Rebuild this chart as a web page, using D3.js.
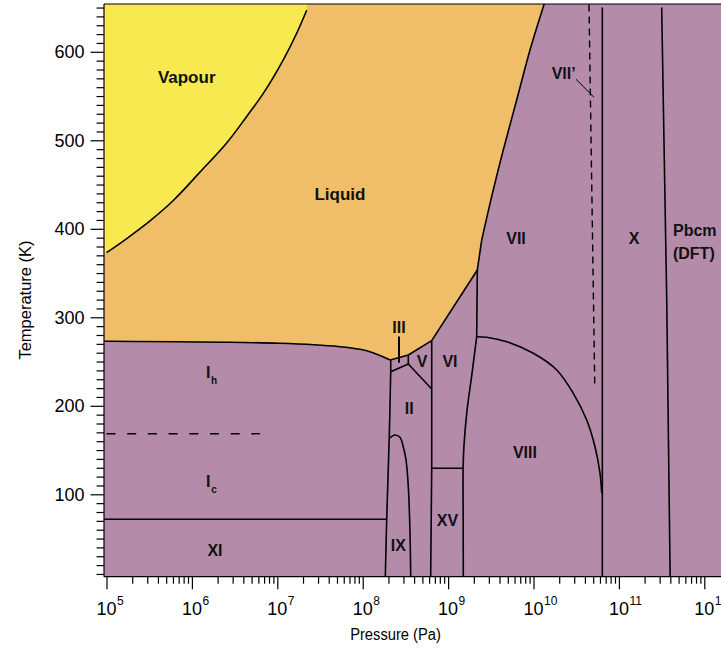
<!DOCTYPE html>
<html><head><meta charset="utf-8">
<script src="https://cdn.jsdelivr.net/npm/d3@7"></script>
<style>body{margin:0;background:#fff}svg{display:block}</style>
</head><body>
<svg id="c" width="721" height="648"></svg>
<script>
// ---- data: boundaries as [log10(P / Pa), T / K] ----
const vapourCurve = [[5.0,373],[5.237,389],[5.509,409],[5.782,432],[6.094,464],[6.407,497],[6.642,527],[6.836,553],[7.07,591],[7.227,621],[7.344,647]];
const meltIh  = [[4.97,273],[5.0,273],[7.032,270.6],[7.734,266.8],[7.968,263.8],[8.12,260],[8.322,251.8]];
const meltIII = [[8.322,251.8],[8.534,257.4]];
const meltV   = [[8.534,257.4],[8.808,273.6]];
const meltVI  = [[8.808,273.6],[9.342,353.4]];
const meltVIIa = [[9.342,353.4],[9.393,387]];
const meltVIIb = [[9.393,387],[9.51,436.3],[9.646,489],[9.803,545.5],[9.959,602],[10.115,651],[10.125,654.2]];
const ihIIline = [[8.328,251.8],[8.328,238.5],[8.311,165.1],[8.281,71.8],[8.265,6.9]];
const iiiII  = [[8.328,238.5],[8.534,247.2]];
const iiiV   = [[8.534,257.4],[8.534,247.2]];
const vII    = [[8.534,247.2],[8.808,219]];
const viLeft = [[8.808,273.6],[8.808,219],[8.808,129.4],[8.796,6.9]];
const xvTop  = [[8.808,129.4],[9.176,129.4]];
const viVii  = [[9.342,353.4],[9.335,278.1]];
const viViii = [[9.335,278.1],[9.28,236.7],[9.218,191.5],[9.185,153.8],[9.176,129.4],[9.177,60],[9.178,6.9]];
const viiViii = [[9.335,278.1],[9.452,277.4],[9.686,272.4],[9.998,259.3],[10.272,240.5],[10.466,214.1],[10.623,184],[10.72,153.8],[10.779,123.7],[10.799,101.1]];
const xLine  = [[10.806,650],[10.806,6.9]];
const pbcmLine = [[11.501,650],[11.56,319.5],[11.6,6.9]];
const viiPrime = [[10.65,653.5],[10.717,225]];
const xiLine = [[4.97,71.8],[8.281,71.8]];
const icLine = [[5.0,168.5],[6.797,168.5]];
const ixDome = [[8.311,163.2],[8.378,167],[8.436,164.4],[8.475,153.8],[8.507,138.8],[8.534,108.6],[8.554,55.9],[8.562,6.9]];
const pointerIII = [[8.425,278.3],[8.425,248.7]];
const pointerVIIp = [[10.498,568.9],[10.709,548.6]];

// region labels [text, log10 P, T (cap centre), anchor, size]
const labels = [
  ["Vapour",5.939,571.5,"middle",17],["Liquid",7.734,439.3,"middle",17],
  ["XI",6.27,37.1,"middle",16],["III",8.425,288.8,"middle",16],["V",8.694,250.4,"middle",16],
  ["VI",9.022,249.8,"middle",16],["II",8.544,197.1,"middle",16],["IX",8.417,42.7,"middle",16],
  ["XV",8.993,70.9,"middle",16],["VIII",9.9,147.5,"middle",16],["VII",9.795,389.2,"middle",16],
  ["X",11.177,389.2,"middle",16],["Pbcm",11.633,397.8,"start",16],["(DFT)",11.633,372,"start",16],
  ["VII\u2019",10.213,575.7,"start",16]
];
const subLabels = [["I","h",6.19,237.6],["I","c",6.19,115.0]];
const xTickExps = [5,6,7,8,9,10,11,12];
const yMajorTicks = [100,200,300,400,500,600];
const yMinorTicks = d3.range(10,651,10).filter(v=>v%100!==0);

// ---- scales ----
const x = d3.scaleLog().domain([1e5,1e12]).range([106.5,704.3]);
const y = d3.scaleLinear().domain([100,600]).range([494.3,51.8]);
const L=104, R=721, TOP=4, BOT=576.7;
const lpMin = Math.log10(x.invert(L));
const tMax = y.invert(TOP);
const px = d => x(Math.pow(10,d[0])), py = d => y(d[1]);

const colVap="#f7e94f", colLiq="#f0bd69", colSol="#b48ba9";
const font="'Liberation Sans', Arial, Helvetica, sans-serif";
const svg = d3.select("#c");

svg.append("clipPath").attr("id","clip").append("rect")
  .attr("x",L).attr("y",TOP).attr("width",R-L).attr("height",BOT-TOP);
const g = svg.append("g").attr("clip-path","url(#clip)");

g.append("rect").attr("x",L).attr("y",TOP).attr("width",R-L).attr("height",BOT-TOP).attr("fill",colSol);

const lin = d3.line().x(px).y(py);
const cat = d3.line().x(px).y(py).curve(d3.curveCatmullRom.alpha(0.5));
const join = parts => parts.map((p,i)=> i===0?p:p.replace(/^M/,"L")).join("") + "Z";
const rev = a => a.slice().reverse();

const vapFill = [[lpMin,371]].concat(vapourCurve);
// vapour region
g.append("path").attr("fill",colVap).attr("d", join([
  lin([[lpMin,tMax],[lpMin,371]]), cat(vapFill), lin([[7.36,tMax]])
]));
// liquid region
g.append("path").attr("fill",colLiq).attr("d", join([
  cat(vapFill), lin([[7.36,tMax],[10.125,tMax]]),
  cat(rev(meltVIIb)), lin(rev(meltVIIa)), lin(rev(meltVI)), lin(rev(meltV)), lin(rev(meltIII)),
  cat(rev(meltIh))
]));

// boundary lines
const lineG = g.append("g").attr("fill","none").attr("stroke","#000").attr("stroke-width",1.6).attr("stroke-linejoin","round");
[[vapourCurve,cat],[meltIh,cat],[meltIII,lin],[meltV,lin],[meltVI,lin],[meltVIIa,lin],[meltVIIb,cat],
 [ihIIline,cat],[iiiII,lin],[iiiV,lin],[vII,lin],[viLeft,lin],[xvTop,lin],[viVii,lin],[viViii,cat],
 [viiViii,cat],[xLine,lin],[pbcmLine,lin],[xiLine,lin],[ixDome,cat]].forEach(([d,gen])=>{
  lineG.append("path").attr("d",gen(d));
});
lineG.append("path").attr("d",lin(viiPrime)).attr("stroke-dasharray","7,5").attr("stroke-width",1.4);
lineG.append("path").attr("d",lin(icLine)).attr("stroke-dasharray","9,11.7").attr("stroke-width",1.4);
lineG.append("path").attr("d",lin(pointerIII)).attr("stroke-width",2);
lineG.append("path").attr("d",lin(pointerVIIp)).attr("stroke-width",1);

// labels
const lab = svg.append("g").attr("font-family",font).attr("font-weight","bold").attr("fill","#111");
labels.forEach(([t,lp,T,anc,fs])=>{
  lab.append("text").attr("x",px([lp,T])).attr("y",py([lp,T])+0.358*fs)
    .attr("text-anchor",anc).attr("font-size",fs).text(t);
});
subLabels.forEach(([t,s,lp,T])=>{
  const xx=px([lp,T]), yy=py([lp,T])+0.358*16;
  lab.append("text").attr("x",xx).attr("y",yy).attr("text-anchor","middle").attr("font-size",16).text(t);
  lab.append("text").attr("x",xx+6).attr("y",yy+6).attr("text-anchor","middle").attr("font-size",10).text(s);
});

// axes
const ax = svg.append("g").attr("stroke","#000").attr("stroke-width",1.2);
ax.append("line").attr("x1",L).attr("x2",R).attr("y1",TOP).attr("y2",TOP);
ax.append("line").attr("x1",L).attr("x2",R).attr("y1",BOT).attr("y2",BOT);
ax.append("line").attr("x1",L).attr("x2",L).attr("y1",TOP).attr("y2",BOT);

const yAxis = d3.axisLeft(y).tickValues(yMajorTicks).tickSize(13.5).tickPadding(6).tickFormat(d3.format("d"));
const yA = svg.append("g").attr("transform",`translate(${L},0)`).call(yAxis);
yA.select(".domain").remove();
yA.selectAll("text").attr("font-size",18).attr("font-family",font).attr("fill","#000");
yA.selectAll("line").attr("stroke-width",1.2);
const yAm = svg.append("g").attr("transform",`translate(${L},0)`).call(d3.axisLeft(y).tickValues(yMinorTicks).tickSize(7.5).tickFormat(""));
yAm.select(".domain").remove(); yAm.selectAll("line").attr("stroke-width",1.2);

const xAxis = d3.axisBottom(x).tickValues(xTickExps.map(e=>Math.pow(10,e))).tickSize(12.5).tickFormat("");
const xA = svg.append("g").attr("transform",`translate(0,${BOT})`).call(xAxis);
xA.select(".domain").remove(); xA.selectAll("line").attr("stroke-width",1.2);
const xMinor = [];
xTickExps.forEach(e=>{ for(let k=2;k<=9;k++){ const v=k*Math.pow(10,e); if(x(v)<=R) xMinor.push(v);} });
const xAm = svg.append("g").attr("transform",`translate(0,${BOT})`).call(d3.axisBottom(x).tickValues(xMinor).tickSize(7).tickFormat(""));
xAm.select(".domain").remove(); xAm.selectAll("line").attr("stroke-width",1.2);

const xl = svg.append("g").attr("font-family",font).attr("fill","#000");
xTickExps.forEach(e=>{
  const xx = x(Math.pow(10,e));
  xl.append("text").attr("x",xx).attr("y",615).attr("text-anchor","middle").attr("font-size",18).text("10");
  xl.append("text").attr("x",xx+10.5).attr("y",605).attr("text-anchor","start").attr("font-size",12).text(e);
});
svg.append("text").attr("transform","translate(395.5,640) scale(0.92,1)").attr("text-anchor","middle").attr("font-family",font)
  .attr("font-size",16).text("Pressure (Pa)");
svg.append("text").attr("transform","translate(31,300) rotate(-90)").attr("text-anchor","middle").attr("font-family",font)
  .attr("font-size",16.5).text("Temperature (K)");
</script>
</body></html>
